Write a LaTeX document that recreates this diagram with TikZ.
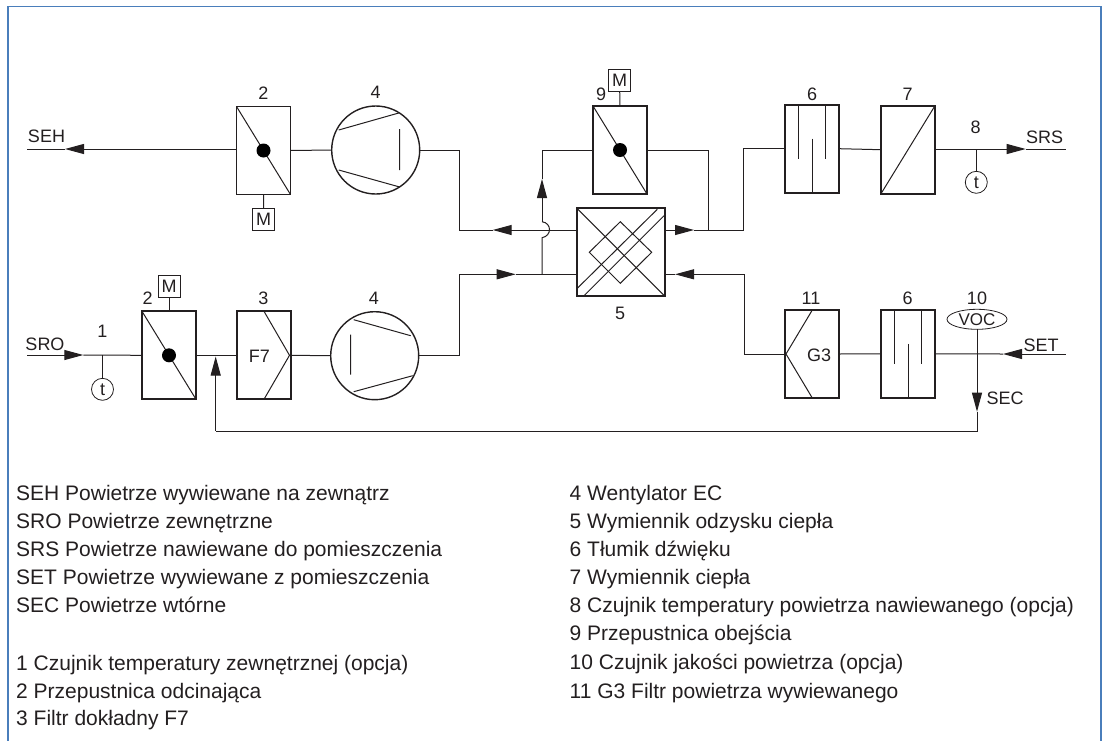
\documentclass[tikz,border=0pt]{standalone}
\usepackage{fontspec}
\setmainfont{Liberation Sans}
\usetikzlibrary{arrows.meta,shapes.geometric}
\definecolor{inkc}{HTML}{231F20}
\definecolor{framec}{HTML}{4A7EBB}
\tikzset{
  pipe/.style={draw=inkc,line width=1pt},
  flow/.style={pipe,-{Triangle[length=19pt,width=10pt]}},
  unit/.style={draw=inkc,line width=1.8pt,rectangle,minimum width=54pt,minimum height=88pt,inner sep=0pt,outer sep=0pt},
  hxbox/.style={unit,minimum width=88pt},
  fanbox/.style={draw=inkc,line width=1.4pt,circle,minimum size=88pt,inner sep=0pt,outer sep=0pt},
  motor/.style={draw=inkc,line width=0.8pt,rectangle,minimum size=22pt,inner sep=0pt,outer sep=0pt},
  probe/.style={draw=inkc,line width=0.8pt,circle,minimum size=22pt,inner sep=0pt,outer sep=0pt},
  sensor/.style={draw=inkc,line width=0.8pt,ellipse,minimum width=60pt,minimum height=20pt,inner sep=0pt,outer sep=0pt},
  axle/.style={fill=black,circle,minimum size=14pt,inner sep=0pt},
  txt/.style={text=inkc,inner sep=0pt,font=\fontsize{18}{20}\selectfont},
  legend/.style={text=inkc,inner sep=0pt,anchor=base west,font=\fontsize{21}{24}\selectfont}
}
\begin{document}
\begin{tikzpicture}[x=1pt,y=-1pt]
\useasboundingbox (0,0) rectangle (1106,740);
\draw[framec,line width=1.8pt] (8,741) -- (8,6.5) -- (1101,6.5) -- (1101,741);

% top row
\node[unit] (dmpu) at (263.5,150.5) {};
\node[fanbox] (fanu) at (375.7,150) {};
\node[motor,txt] (motu) at (263.7,219) {M};
\node[hxbox] (hx) at (620.7,252) {};
\node[unit] (dmpb) at (620,150) {};
\node[motor,txt] (motb) at (619.5,80.5) {M};
\node[unit] (silu) at (812.2,148.7) {};
\node[unit] (heat) at (908,149.7) {};
\node[probe,txt] (tempu) at (976.3,182.3) {t};

% bottom row
\node[probe,txt] (tempd) at (102.5,389.3) {t};
\node[unit] (dmpd) at (169,355.3) {};
\node[motor,txt] (motd) at (169,286) {M};
\node[unit] (filf) at (263.7,355.3) {};
\node[fanbox] (fand) at (374.7,355.7) {};
\node[unit] (filg) at (811.8,354) {};
\node[unit] (sild) at (908,353.8) {};
\node[sensor,txt] (voc) at (977,319.3) {\fontsize{17}{20}\selectfont VOC};

% flaps
\foreach \d in {dmpu,dmpb,dmpd} {
  \draw[pipe] (\d.north west) -- (\d.south east);
  \node[axle] (\d axle) at (\d.center) {};
}
\draw[pipe] (heat.south west) -- (heat.north east);

% fan blades
\draw[pipe,shift={(fanu)}] (-37,-20) -- (23,-37) (-37,20) -- (24,37) (24,-21) -- (24,20);
\draw[pipe,shift={(fand)}] (-21,-36) -- (36,-20) (-21,36) -- (38,20) (-24,-21) -- (-24,19);

% filters
\coordinate (filfa) at (264,311.3);
\coordinate (filfb) at (289.5,355.3);
\coordinate (filfc) at (264,399.3);
\draw[pipe] (filfa) -- (filfb) -- (filfc);
\node[txt] (filftxt) at (259.5,356) {F7};
\coordinate (filga) at (812.3,310);
\coordinate (filgb) at (786,354);
\coordinate (filgc) at (812.3,398);
\draw[pipe] (filga) -- (filgb) -- (filgc);
\node[txt] (filgtxt) at (819,355) {G3};

% silencers
\draw[pipe,shift={(silu)}] (-13.5,-44) -- (-13.5,10) (13.5,-44) -- (13.5,10) (0,-10) -- (0,44);
\draw[pipe,shift={(sild)}] (-13.5,-44) -- (-13.5,10) (13.5,-44) -- (13.5,10) (0,-10) -- (0,44);

% heat exchanger
\draw[pipe] (hx.north west) -- (hx.south east);
\draw[pipe] (577.3,288.3) -- (657.3,209.3) (584,295.7) -- (664,215.7);
\draw[pipe] (620.3,221.7) -- (651.7,252.3) -- (620.3,283.3) -- (589.3,252.3) -- cycle;

% coordinates of the air paths
\coordinate (sehend) at (27,149);
\coordinate (sehtip) at (65,149);
\coordinate (sroend) at (27,355);
\coordinate (srotip) at (83.3,355);
\coordinate (sroj) at (102.5,355);
\coordinate (srsend) at (1065.7,149);
\coordinate (srstip) at (1025.7,149);
\coordinate (srsj) at (976.3,149);
\coordinate (setend) at (1065.7,354);
\coordinate (settip) at (1003,354);
\coordinate (sectip) at (977,411.7);
\coordinate (secc) at (977,431);
\coordinate (retc) at (215.7,431);
\coordinate (rettip) at (215.7,356.5);
\coordinate (hxlu) at (576.7,230);
\coordinate (hxru) at (664.7,230);
\coordinate (hxld) at (576.7,274.3);
\coordinate (hxrd) at (664.7,274.3);
\coordinate (ltipu) at (492.7,230);
\coordinate (ltipd) at (515.7,274.3);
\coordinate (rtipu) at (694,230);
\coordinate (rtipd) at (675,274.3);
\coordinate (lturnu) at (459.3,230);
\coordinate (lturnd) at (459.3,274.3);
\coordinate (bpj) at (542,274.3);
\coordinate (hopa) at (542,237.7);
\coordinate (hopb) at (542,221.7);
\coordinate (bptip) at (542,179);
\coordinate (bpc) at (542,150);
\coordinate (bpr) at (708,150);
\coordinate (bpj2) at (708,230);
\coordinate (rturnu) at (743.3,230);
\coordinate (rturnd) at (744.3,274.3);

% connectors
\draw[flow] (dmpu.west |- sehend) -- (sehtip);
\draw[pipe] (sehtip) -- (sehend);
\draw[pipe] (dmpu.east) -- (fanu.west);
\draw[pipe] (motu) -- (dmpu.south);
\draw[flow] (hxlu) -- (ltipu);
\draw[pipe] (ltipu) -- (lturnu) |- (fanu.east);

\draw[flow] (sroend) -- (srotip);
\draw[pipe] (srotip) -- (dmpd.west);
\draw[pipe] (sroj) -- (tempd);
\draw[pipe] (motd) -- (dmpd.north);
\draw[pipe] (dmpd.east) -- (filf.west);
\draw[pipe] (filf.east) -- (fand.west);
\draw[pipe] (fand.east) -| (lturnd);
\draw[flow] (lturnd) -- (ltipd);
\draw[pipe] (ltipd) -- (hxld);

\draw[pipe] (bpj) -- (hopa) .. controls (552,236) and (552,223) .. (hopb);
\draw[flow] (hopb) -- (bptip);
\draw[pipe] (bptip) -- (bpc) -- (dmpb.west);
\draw[pipe] (dmpb.east) -- (bpr) -- (bpj2);
\draw[pipe] (motb) -- (dmpb.north);

\draw[flow] (hxru) -- (rtipu);
\draw[pipe] (rtipu) -- (rturnu) |- (silu.west);
\draw[pipe] (silu.east) -- (heat.west);
\draw[flow] (heat.east |- srsend) -- (srstip);
\draw[pipe] (srstip) -- (srsend);
\draw[pipe] (srsj) -- (tempu);

\draw[flow] (setend) -- (settip);
\draw[pipe] (settip) -- (sild.east);
\draw[pipe] (sild.west) -- (filg.east);
\draw[pipe] (filgb) -- (rturnd |- filgb) -- (rturnd);
\draw[flow] (rturnd) -- (rtipd);
\draw[pipe] (rtipd) -- (hxrd);
\draw[flow] (voc.south) -- (sectip);
\draw[pipe] (sectip) -- (secc) -- (retc);
\draw[flow] (retc) -- (rettip);

% numbers and names
\node[txt] (nseh) at (46.5,136) {SEH};
\node[txt] (nsro) at (45,344) {SRO};
\node[txt] (nsrs) at (1044.5,137) {SRS};
\node[txt] (nset) at (1041,345) {SET};
\node[txt] (nsec) at (1005,398) {SEC};
\node[txt] (l2u) at (263.3,93) {2};
\node[txt] (l4u) at (375.7,92.5) {4};
\node[txt] (l9) at (601,94) {9};
\node[txt] (l5) at (620,313) {5};
\node[txt] (l6u) at (812,94) {6};
\node[txt] (l7) at (907.7,94) {7};
\node[txt] (l8) at (975.7,127.7) {8};
\node[txt] (l1) at (102.3,331.7) {1};
\node[txt] (l2d) at (147.7,298) {2};
\node[txt] (l3) at (263.3,298) {3};
\node[txt] (l4d) at (374,298) {4};
\node[txt] (l11) at (811,298) {11};
\node[txt] (l6d) at (907.7,298) {6};
\node[txt] (l10) at (977,298) {10};

% legend
\foreach \n/\y/\txt in {a/500/SEH Powietrze wywiewane na zewnątrz,
                      b/528/SRO Powietrze zewnętrzne,
                      c/556/SRS Powietrze nawiewane do pomieszczenia,
                      d/584/SET Powietrze wywiewane z pomieszczenia,
                      e/612/SEC Powietrze wtórne,
                      f/670/1 Czujnik temperatury zewnętrznej (opcja),
                      g/698/2 Przepustnica odcinająca,
                      h/725/3 Filtr dokładny F7}
  \node[legend] (left\n) at (16,\y) {\txt};
\foreach \n/\y/\txt in {a/500/4 Wentylator EC,
                      b/528/5 Wymiennik odzysku ciepła,
                      c/556/6 Tłumik dźwięku,
                      d/584/7 Wymiennik ciepła,
                      e/612/8 Czujnik temperatury powietrza nawiewanego (opcja),
                      f/640/9 Przepustnica obejścia,
                      g/669/10 Czujnik jakości powietrza (opcja),
                      h/698/11 G3 Filtr powietrza wywiewanego}
  \node[legend] (right\n) at (569.5,\y) {\txt};
\end{tikzpicture}
\end{document}
